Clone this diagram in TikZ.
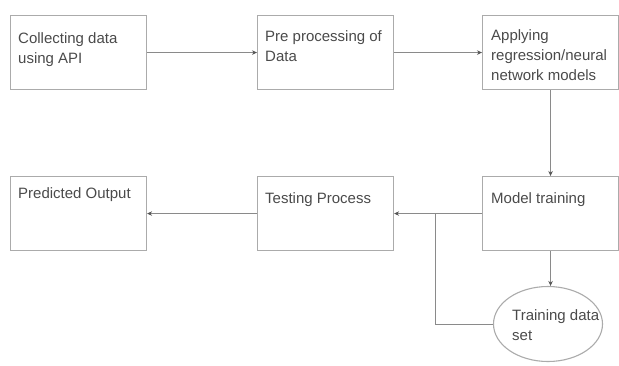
\documentclass[tikz,border=0pt]{standalone}
\usepackage{fontspec}
\setmainfont{Liberation Sans}
\usetikzlibrary{arrows.meta,shapes.geometric}
\definecolor{boxc}{HTML}{ABABAB}
\definecolor{linec}{HTML}{8A8A8A}
\definecolor{tipc}{HTML}{555555}
\definecolor{txtc}{HTML}{4A4A4A}
\begin{document}
\begin{tikzpicture}[x=1pt,y=-1pt,
 boxn/.style={draw=boxc, line width=1.1pt, minimum width=136pt, minimum height=74pt, inner sep=0pt, anchor=north west},
 ell/.style={ellipse, draw=boxc, line width=1.1pt, minimum width=109pt, minimum height=75pt, inner sep=0pt},
 lbl/.style={anchor=base west, inner sep=0pt, align=left, text=txtc, font=\fontsize{15}{20}\selectfont},
 conn/.style={draw=linec, line width=0.9pt, -{Stealth[length=5pt,width=4.5pt,color=tipc]}},
 plainline/.style={draw=linec, line width=0.9pt}]
\path[use as bounding box] (0,0) rectangle (619,365);
% boxes
\node[boxn] (b1) at (10,15) {};
\node[boxn] (b2) at (257,15) {};
\node[boxn] (b3) at (482,15) {};
\node[boxn] (b4) at (10,176) {};
\node[boxn] (b5) at (257,176) {};
\node[boxn] (b6) at (482,176) {};
\node[ell] (tds) at (548,324) {};
% labels (anchor = baseline of the last line)
\node[lbl] (t1) at (18,63) {Collecting data\\using API};
\node[lbl] (t2) at (265,61) {Pre processing of\\Data};
\node[lbl] (t3) at (491,80) {Applying\\regression/neural\\network models};
\node[lbl] (t4) at (18,198) {Predicted Output};
\node[lbl] (t5) at (265,203) {Testing Process};
\node[lbl] (t6) at (491,203) {Model training};
\node[lbl] (t7) at (512,340) {Training data\\set};
% connectors
\coordinate (j) at (435,213);
\draw[conn] (b1.east) -- (b2.west);
\draw[conn] (b2.east) -- (b3.west);
\draw[conn] (b3.south) -- (b6.north);
\draw[conn] (b6.west) -- (b5.east);
\draw[conn] (b5.west) -- (b4.east);
\draw[conn] (b6.south) -- (b6.south |- tds.north);
\draw[plainline] (tds.west) -| (j);
\end{tikzpicture}
\end{document}
